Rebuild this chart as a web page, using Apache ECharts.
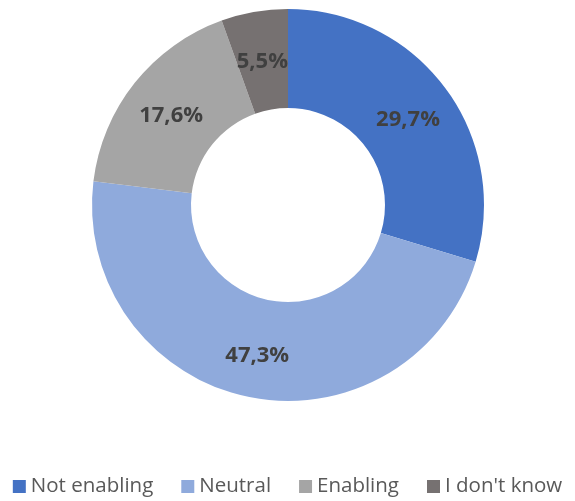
<!DOCTYPE html>
<html>
<head>
<meta charset="utf-8">
<script src="https://cdn.jsdelivr.net/npm/echarts@6/dist/echarts.min.js"></script>
<style>
  html, body { margin: 0; padding: 0; background: #fff; }
  #chart { width: 575px; height: 501px; }
</style>
</head>
<body>
<div id="chart"></div>
<script>
// Answer categories and their shares (percent)
const categories = ['Not enabling', 'Neutral', 'Enabling', "I don't know"];
const shares = [29.7, 47.3, 17.6, 5.5];
const colors = ['#4472C4', '#8FAADC', '#A5A5A5', '#767171'];

const chart = echarts.init(document.getElementById('chart'), null, { renderer: 'canvas' });

chart.setOption({
  animation: false,
  color: colors,
  legend: {
    top: 471,
    left: 'center',
    itemWidth: 13,
    itemHeight: 13,
    itemGap: 28,
    icon: 'rect',
    textStyle: { fontFamily: 'Open Sans', fontSize: 20.5, color: '#595959' },
    data: categories
  },
  series: [{
    type: 'pie',
    center: [288, 205],
    radius: [97, 196],
    startAngle: 90,
    clockwise: true,
    avoidLabelOverlap: false,
    itemStyle: { borderWidth: 0 },
    label: {
      show: true,
      position: 'inside',
      fontFamily: 'Open Sans',
      fontWeight: 'bold',
      fontSize: 22,
      color: '#404040',
      offset: [0, 4],
      formatter: p => p.value.toFixed(1).replace('.', ',') + '%'
    },
    labelLine: { show: false },
    data: categories.map((name, i) => ({ name, value: shares[i] }))
  }]
});
</script>
</body>
</html>
